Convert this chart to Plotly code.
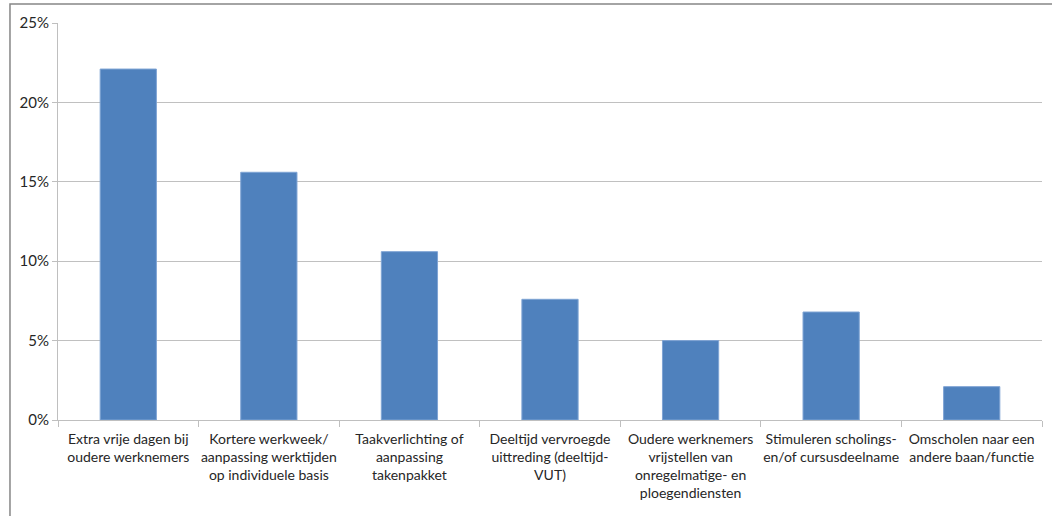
import plotly.graph_objects as go

# Maatregelen voor oudere werknemers en aandeel organisaties
categories = [
    "Extra vrije dagen bij<br>oudere werknemers",
    "Kortere werkweek/<br>aanpassing werktijden<br>op individuele basis",
    "Taakverlichting of<br>aanpassing<br>takenpakket",
    "Deeltijd vervroegde<br>uittreding (deeltijd-<br>VUT)",
    "Oudere werknemers<br>vrijstellen van<br>onregelmatige- en<br>ploegendiensten",
    "Stimuleren scholings-<br>en/of cursusdeelname",
    "Omscholen naar een<br>andere baan/functie",
]
shares = [0.221, 0.156, 0.106, 0.076, 0.050, 0.068, 0.021]
y_ticks = [0, 0.05, 0.10, 0.15, 0.20, 0.25]

FONT = "Lato, Roboto, Arial, sans-serif"

fig = go.Figure(
    go.Bar(
        x=categories,
        y=shares,
        marker=dict(color="#4F81BD", line=dict(color="#7FA4D4", width=1)),
        hoverinfo="skip",
    )
)

fig.update_layout(
    width=1052,
    height=516,
    margin=dict(l=58, r=10, t=23, b=96),
    paper_bgcolor="white",
    plot_bgcolor="white",
    bargap=0.6,
    showlegend=False,
    font=dict(family=FONT, size=14, color="#262626"),
    shapes=[
        dict(
            type="rect", xref="paper", yref="paper",
            x0=-0.0488, x1=1.2, y0=-0.6, y1=1.0479,
            line=dict(color="#868686", width=1.5),
            fillcolor="rgba(0,0,0,0)", layer="below",
        )
    ],
)

fig.update_xaxes(
    type="category",
    showline=True,
    linecolor="#BFBFBF",
    linewidth=1,
    ticks="outside",
    tickson="boundaries",
    ticklen=6,
    tickcolor="#BFBFBF",
    showgrid=False,
    tickangle=0,
    ticklabelstandoff=6,
    tickfont=dict(family=FONT, size=14, color="#262626"),
)

fig.update_yaxes(
    range=[0, 0.25],
    tickvals=y_ticks,
    tickformat=".0%",
    showline=True,
    linecolor="#BFBFBF",
    linewidth=1,
    ticks="outside",
    ticklen=5,
    tickcolor="#BFBFBF",
    showgrid=True,
    gridcolor="#C0C0C0",
    gridwidth=1,
    zeroline=False,
    tickfont=dict(family=FONT, size=15, color="#262626"),
)

fig.write_html("out.html")
